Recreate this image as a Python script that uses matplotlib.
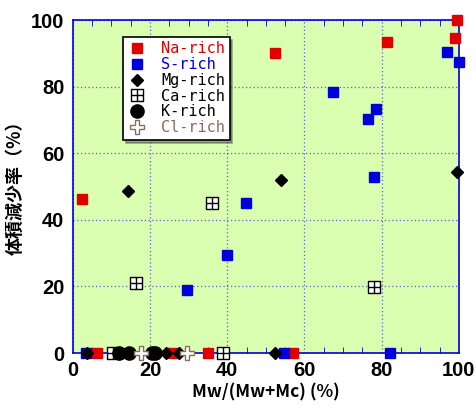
import matplotlib
matplotlib.use("Agg")
import matplotlib.pyplot as plt
from matplotlib.path import Path
from matplotlib.ticker import MultipleLocator

# data: x = Mw/(Mw+Mc) %, y = volume reduction %
na_x = [2.3, 52.4, 81.3, 99.0, 99.5, 6.2, 26.0, 35.0, 57.0]
na_y = [46.2, 90.2, 93.5, 94.5, 100.0, 0, 0, 0, 0]
s_x = [97.0, 100.0, 67.3, 78.6, 76.4, 78.0, 44.8, 39.9, 29.5, 3.5, 54.7, 82.2]
s_y = [90.5, 87.5, 78.4, 73.4, 70.3, 52.8, 45.1, 29.5, 18.9, 0, 0, 0]
mg_x = [14.4, 54.0, 99.6, 3.8, 24.2, 27.6, 52.4]
mg_y = [48.6, 51.9, 54.3, 0, 0, 0, 0]
ca_x = [36.0, 16.3, 78.0, 39.0, 10.5]
ca_y = [45.1, 21.1, 19.7, 0, 0]
k_x = [12.0, 14.6, 20.4, 21.4]
k_y = [0, 0, 0, 0]
cl_x = [17.6, 29.6]
cl_y = [0, 0]

blue = "#0000dd"
red = "#e00000"
brown = "#8b6b60"

# square with a cross inside
ca_marker = Path(
    [(-1, -1), (1, -1), (1, 1), (-1, 1), (-1, -1), (0, -1), (0, 1), (-1, 0), (1, 0)],
    [Path.MOVETO, Path.LINETO, Path.LINETO, Path.LINETO, Path.CLOSEPOLY,
     Path.MOVETO, Path.LINETO, Path.MOVETO, Path.LINETO])

fig = plt.figure(figsize=(4.76, 4.11), dpi=100)
ax = fig.add_axes([0.153, 0.141, 0.811, 0.810])
ax.set_facecolor("#daffb0")

kw = dict(linestyle="none", clip_on=False, zorder=5)
ax.plot(na_x, na_y, marker="s", ms=7.5, mfc=red, mec=red, label="Na-rich", **kw)
ax.plot(s_x, s_y, marker="s", ms=7.5, mfc=blue, mec=blue, label="S-rich", **kw)
ax.plot(mg_x, mg_y, marker="D", ms=6, mfc="black", mec="black", label="Mg-rich", **kw)
ax.plot(ca_x, ca_y, marker=ca_marker, ms=8, mfc="white", mec="black", mew=1.0, label="Ca-rich", **kw)
ax.plot(k_x, k_y, marker="o", ms=9.5, mfc="black", mec="black", label="K-rich", **kw)
ax.plot(cl_x, cl_y, marker="P", ms=10, mfc="white", mec=brown, mew=1.0, label="Cl-rich", **kw)

ax.set_xlim(0, 100)
ax.set_ylim(0, 100)
ax.xaxis.set_major_locator(MultipleLocator(20))
ax.yaxis.set_major_locator(MultipleLocator(20))
ax.xaxis.set_minor_locator(MultipleLocator(5))
ax.tick_params(axis="x", which="minor", direction="in", top=True, bottom=True,
               length=4, color=blue)
ax.tick_params(axis="both", which="major", direction="in", length=0,
               labelsize=14.5, pad=6)
for lab in ax.get_xticklabels() + ax.get_yticklabels():
    lab.set_fontweight("bold")
    lab.set_family("Liberation Sans")

ax.grid(True, which="major", color=blue, linestyle=(0, (1, 2)), linewidth=0.9, alpha=0.6)
ax.set_axisbelow(True)
for sp in ax.spines.values():
    sp.set_color(blue)
    sp.set_linewidth(1.2)

cjk = ["Noto Sans CJK JP", "DejaVu Sans"]
ax.set_xlabel("Mw/(Mw+Mc) (%)", family=cjk, fontsize=12.5, fontweight="bold", labelpad=2)
ax.set_ylabel("体積減少率（%）", family=cjk, fontsize=13, fontweight="bold")
ax.yaxis.set_label_coords(-0.125, 0.51)

leg = ax.legend(loc="upper left", bbox_to_anchor=(0.13, 0.95), frameon=True,
                fancybox=False, shadow=True, edgecolor="black", framealpha=1,
                prop={"family": "DejaVu Sans Mono", "size": 11},
                handletextpad=1.0, borderpad=0.3, labelspacing=0.05,
                handlelength=1.2, borderaxespad=0)
leg.get_frame().set_linewidth(1.2)
for txt, c in zip(leg.get_texts(), [red, blue, "black", "black", "black", brown]):
    txt.set_color(c)

fig.savefig("out.png", dpi=100)
